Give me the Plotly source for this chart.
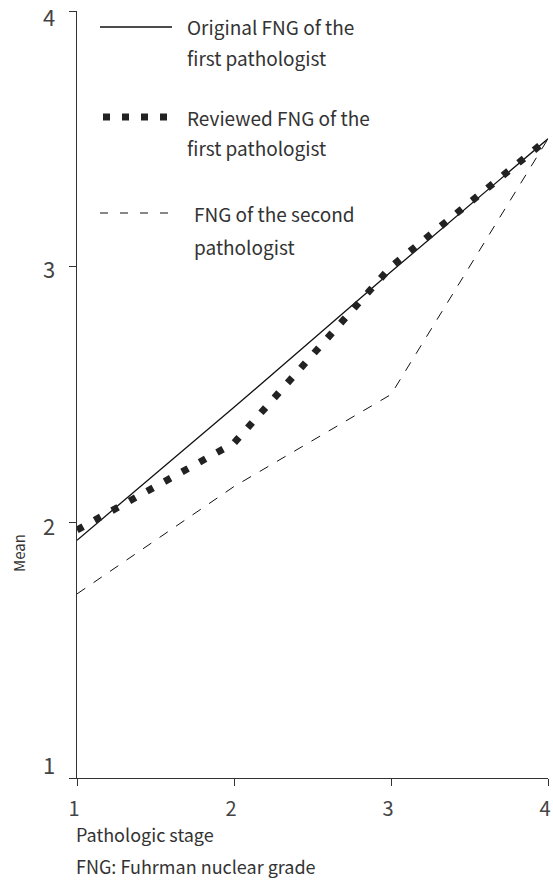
import plotly.graph_objects as go

# ---- data ----
stages = [1, 2, 3, 4]
original_first = [1.93, 2.45, 2.98, 3.5]
reviewed_first = [1.97, 2.31, 3.0, 3.5]
second_path = [1.72, 2.14, 2.5, 3.5]
y_ticks = [1, 2, 3, 4]
y_tick_text = ["1", "2", "3", "4"]
x_ticks = [1, 2, 3, 4]
legend_lines = [
    ["Original FNG of the", "first pathologist"],
    ["Reviewed FNG of the", "first pathologist"],
    ["FNG of the second", "pathologist"],
]

W, H = 553, 888
ML, MT = 77, 11
PR, PB = 548, 778
MR, MB = W - PR, H - PB
PW, PH = PR - ML, PB - MT
FONT = "Noto Sans CJK KR"
TXT = "#333333"


def px(x):
    return (x - ML) / PW


def py(y):
    return (PB - y) / PH


fig = go.Figure()
fig.add_trace(go.Scatter(x=stages, y=original_first, mode="lines",
                         line=dict(color="#111111", width=1.3), name="Original FNG of the first pathologist"))
fig.add_trace(go.Scatter(x=stages, y=reviewed_first, mode="lines",
                         line=dict(color="#222222", width=7, dash="7px,13px"),
                         name="Reviewed FNG of the first pathologist"))
fig.add_trace(go.Scatter(x=stages, y=second_path, mode="lines",
                         line=dict(color="#111111", width=1, dash="10px,10px"),
                         name="FNG of the second pathologist"))

shapes = [
    dict(type="line", xref="paper", yref="paper", x0=px(100), x1=px(172), y0=py(27), y1=py(27),
         line=dict(color="#111111", width=1.3)),
    dict(type="line", xref="paper", yref="paper", x0=px(103), x1=px(167), y0=py(117), y1=py(117),
         line=dict(color="#222222", width=7, dash="7px,12px")),
    dict(type="line", xref="paper", yref="paper", x0=px(100), x1=px(168), y0=py(213), y1=py(213),
         line=dict(color="#111111", width=1, dash="8px,12px")),
]

annotations = []
legend_pos = [(185, 27, 58), (185, 117, 147), (192, 213, 246)]
for (lx, y1, y2), lines in zip(legend_pos, legend_lines):
    for yy, t in zip((y1, y2), lines):
        annotations.append(dict(text=t, x=px(lx), y=py(yy), xref="paper", yref="paper",
                                xanchor="left", yanchor="middle", showarrow=False,
                                font=dict(family=FONT, size=19, color=TXT)))

# y tick labels (hand-placed in the original figure, slightly offset from ticks)
label_shift = {1: 14, 2: -3, 3: -1, 4: -5}
for v, t in zip(y_ticks, y_tick_text):
    annotations.append(dict(text=t, x=px(57), y=v, xref="paper", yref="y",
                            xanchor="right", yanchor="middle", yshift=label_shift[v],
                            showarrow=False, font=dict(family=FONT, size=22, color="#444444")))

annotations += [
    dict(text="Mean", x=px(18), y=py(553), xref="paper", yref="paper", textangle=-90,
         xanchor="center", yanchor="middle", showarrow=False,
         font=dict(family=FONT, size=15, color=TXT)),
    dict(text="Pathologic stage", x=px(74), y=py(834), xref="paper", yref="paper",
         xanchor="left", yanchor="middle", showarrow=False,
         font=dict(family=FONT, size=18, color=TXT)),
    dict(text="FNG: Fuhrman nuclear grade", x=px(74), y=py(866), xref="paper", yref="paper",
         xanchor="left", yanchor="middle", showarrow=False,
         font=dict(family=FONT, size=18, color=TXT)),
]

fig.update_layout(
    width=W, height=H,
    margin=dict(l=ML, r=MR, t=MT, b=MB, autoexpand=False),
    paper_bgcolor="white", plot_bgcolor="white",
    showlegend=False,
    shapes=shapes, annotations=annotations,
    font=dict(family=FONT, color=TXT),
)
fig.update_xaxes(range=[1, 4], tickvals=x_ticks, showgrid=False, zeroline=False,
                 showline=True, linecolor="#333333", linewidth=1.3,
                 ticks="outside", ticklen=7, tickwidth=1.3, tickcolor="#333333",
                 ticklabeloverflow="allow", ticklabelshift=-3,
                 tickfont=dict(family=FONT, size=20, color="#444444"), ticklabelstandoff=6)
fig.update_yaxes(range=[1, 4], tickvals=y_ticks, showgrid=False, zeroline=False,
                 showline=True, linecolor="#333333", linewidth=1.3,
                 ticks="outside", ticklen=7, tickwidth=1.3, tickcolor="#333333",
                 showticklabels=False)

fig.write_html(
    "out.html",
    config={"displayModeBar": False},
    post_script="document.body.style.margin='0';"
                "document.documentElement.style.overflow='hidden';"
                "document.body.style.overflow='hidden';",
)
